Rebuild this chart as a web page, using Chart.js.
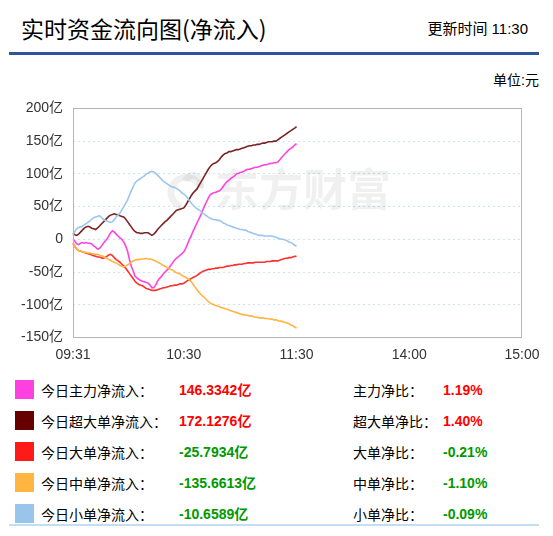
<!DOCTYPE html>
<html>
<head>
<meta charset="utf-8">
<script src="https://cdn.jsdelivr.net/npm/chart.js@4.4.1/dist/chart.umd.min.js"></script>
<style>
  html, body { margin: 0; padding: 0; background: #fff; }
  body { width: 553px; height: 536px; position: relative; overflow: hidden;
         font-family: "Liberation Sans", "Noto Sans CJK SC", sans-serif; color: #000; }
  .abs { position: absolute; white-space: nowrap; }
  #title { left: 21px; top: 12px; font-size: 23px; line-height: 32px; font-family: "Noto Sans CJK SC", sans-serif; }
  #updated { right: 25px; top: 19px; font-size: 15px; line-height: 20px; }
  #topline { left: 9px; top: 52px; width: 530px; height: 3px; background: #2f5597; }
  #unit { right: 14px; top: 70px; font-size: 14px; line-height: 20px; }
  #chart { position: absolute; left: 0; top: 90px; }
  .sq { position: absolute; left: 15px; width: 19px; height: 19px; }
  .lab { position: absolute; font-size: 14px; line-height: 20px; white-space: nowrap; font-family: "Noto Sans CJK SC", sans-serif; }
  .val { position: absolute; font-size: 14px; line-height: 20px; font-weight: bold; white-space: nowrap; }
  #botline { left: 9px; top: 524px; width: 530px; height: 2px; background: #c3ddf3; }
</style>
</head>
<body>
<div id="title" class="abs">实时资金流向图(净流入)</div>
<div id="updated" class="abs">更新时间 11:30</div>
<div id="topline" class="abs"></div>
<div id="unit" class="abs">单位:元</div>
<canvas id="chart" width="553" height="275"></canvas>
<div id="legend"></div>
<div id="botline" class="abs"></div>

<script>
// x categories: morning 09:31-11:30, afternoon 13:01-15:00
const times = [];
function addSession(h, m, count) {
    for (let i = 0; i < count; i++) {
        m++;
        if (m === 60) { m = 0; h++; }
        times.push(String(h).padStart(2, '0') + ':' + String(m).padStart(2, '0'));
    }
}
addSession(9, 30, 120);
addSession(13, 0, 120);

const shownTimes = ['09:31', '10:30', '11:30', '14:00', '15:00'];
const gridTimes = ['10:30', '11:30', '14:00'];

const yTicks = [200, 150, 100, 50, 0, -50, -100, -150];

// 亿元, one value per minute up to 11:30
const mainNet = [
    0, -3, -7, -8, -6, -5, -6, -5, -6, -6,
    -7, -10, -12, -15, -14, -11, -7, -3, 0, 5,
    10, 13, 11, 8, 5, 2, 0, -4, -10, -18,
    -30, -41, -48, -56, -59, -61, -63, -64, -65, -66,
    -67, -70, -74, -74, -70, -64, -60, -57, -53, -50,
    -47, -44, -40, -36, -32, -29, -27, -24, -22, -19,
    -14, -7, 0, 6, 13, 19, 25, 31, 37, 44,
    51, 57, 63, 68, 70, 71, 72, 73, 74, 77,
    81, 85, 88, 90, 93, 95, 97, 100, 101, 102,
    103, 104, 106, 107, 107, 108, 109, 110, 110, 111,
    112, 113, 114, 114, 115, 116, 116, 117, 117, 118,
    121, 125, 128, 131, 134, 137, 139, 141, 144, 146.33
];
const superNet = [
    10, 7, 6, 8, 11, 14, 17, 19, 20, 19,
    17, 16, 15, 17, 20, 23, 26, 29, 32, 35,
    37, 38, 39, 38, 37, 36, 35, 34, 31, 27,
    23, 19, 15, 12, 10, 10, 9, 9, 10, 10,
    10, 8, 6, 8, 11, 15, 18, 21, 24, 27,
    29, 32, 35, 38, 41, 44, 45, 46, 47, 48,
    52, 57, 62, 67, 71, 74, 77, 82, 87, 92,
    97, 102, 107, 111, 114, 116, 117, 119, 122, 126,
    129, 131, 132, 134, 134, 135, 136, 137, 137, 138,
    139, 140, 141, 142, 143, 143, 144, 144, 145, 145,
    146, 147, 147, 148, 149, 149, 149, 150, 150, 152,
    154, 156, 158, 160, 162, 164, 166, 168, 170, 172.13
];
const largeNet = [
    -6, -11, -15, -17, -18, -19, -20, -21, -22, -23,
    -24, -25, -26, -27, -27, -28, -29, -28, -26, -24,
    -23, -25, -28, -31, -33, -35, -38, -41, -44, -48,
    -52, -56, -60, -64, -67, -69, -70, -71, -73, -75,
    -76, -77, -78, -78, -78, -77, -76, -75, -74, -74,
    -73, -72, -71, -71, -70, -70, -69, -68, -68, -67,
    -65, -63, -61, -60, -58, -57, -55, -53, -51, -49,
    -48, -47, -46, -46, -45, -45, -44, -44, -43, -43,
    -43, -42, -41, -41, -40, -40, -39, -39, -38, -38,
    -38, -37, -37, -36, -36, -36, -36, -35, -35, -35,
    -35, -35, -35, -34, -34, -34, -33, -33, -33, -33,
    -32, -31, -30, -29, -29, -28, -28, -27, -26, -25.79
];
const mediumNet = [
    -6, -11, -15, -17, -18, -19, -20, -20, -21, -21,
    -22, -22, -23, -23, -24, -25, -26, -28, -29, -31,
    -32, -34, -35, -36, -38, -40, -41, -42, -41, -39,
    -37, -35, -33, -32, -31, -31, -30, -30, -30, -29,
    -30, -30, -31, -32, -33, -35, -36, -38, -40, -41,
    -43, -44, -46, -47, -49, -51, -52, -53, -55, -57,
    -58, -60, -62, -65, -69, -73, -77, -81, -84, -87,
    -89, -92, -95, -97, -99, -100, -101, -102, -103, -104,
    -105, -106, -107, -108, -109, -110, -111, -112, -113, -114,
    -115, -115, -116, -116, -117, -117, -118, -119, -119, -120,
    -120, -120, -121, -121, -121, -122, -122, -123, -123, -124,
    -125, -125, -126, -127, -128, -129, -131, -132, -134, -135.66
];
const smallNet = [
    6, 12, 16, 18, 19, 20, 22, 24, 26, 28,
    31, 33, 34, 35, 36, 34, 31, 29, 28, 27,
    26, 27, 30, 34, 37, 40, 45, 50, 55, 60,
    67, 74, 80, 86, 89, 91, 93, 95, 97, 100,
    101, 103, 104, 103, 101, 98, 95, 92, 89, 87,
    85, 83, 81, 80, 79, 78, 76, 74, 71, 69,
    67, 63, 59, 55, 52, 49, 47, 45, 43, 40,
    38, 36, 34, 32, 31, 30, 30, 29, 29, 27,
    25, 24, 22, 21, 20, 19, 18, 17, 16, 15,
    15, 14, 14, 12, 11, 10, 9, 8, 7, 6,
    6, 6, 5, 5, 5, 5, 5, 4, 3, 2,
    1, 0, 0, -1, -2, -4, -5, -7, -9, -10.66
];

const seriesNames = ['今日主力净流入', '今日超大单净流入', '今日大单净流入', '今日中单净流入', '今日小单净流入'];
const seriesColors = ['#ff40e0', '#660000', '#ff1a1a', '#ffb640', '#99c4ec'];
const lineColors = ['#ff44e0', '#7a2424', '#ff3030', '#ffb444', '#9cc6ee'];
const seriesTotals = ['146.3342亿', '172.1276亿', '-25.7934亿', '-135.6613亿', '-10.6589亿'];
const ratioNames = ['主力净比', '超大单净比', '大单净比', '中单净比', '小单净比'];
const ratioValues = ['1.19%', '1.40%', '-0.21%', '-1.10%', '-0.09%'];
const seriesData = [mainNet, superNet, largeNet, mediumNet, smallNet];

// legend table under the chart
const legend = document.getElementById('legend');
seriesNames.forEach((name, i) => {
    const cy = 389.5 + i * 31.1;
    const up = !seriesTotals[i].startsWith('-');
    const color = up ? '#ff0000' : '#009900';
    legend.insertAdjacentHTML('beforeend',
        `<div class="sq" style="top:${cy - 9.5}px;background:${seriesColors[i]}"></div>` +
        `<div class="lab" style="left:41px;top:${cy - 10}px">${name}：</div>` +
        `<div class="val" style="left:179px;top:${cy - 10}px;color:${color}">${seriesTotals[i]}</div>` +
        `<div class="lab" style="left:353px;top:${cy - 10}px">${ratioNames[i]}：</div>` +
        `<div class="val" style="left:443px;top:${cy - 10}px;color:${color}">${ratioValues[i]}</div>`);
});

const gridBlue = '#d3e2f1';

// box round the plot + faint watermark
const frameAndMark = {
    id: 'frameAndMark',
    beforeDatasetsDraw(chart) {
        const { ctx, chartArea: a } = chart;
        ctx.save();
        ctx.fillStyle = 'rgba(0,0,0,0.06)';
        ctx.strokeStyle = 'rgba(0,0,0,0.06)';
        ctx.font = 'bold 44px "Noto Sans CJK SC"';
        ctx.textBaseline = 'middle';
        ctx.fillText('东方财富', a.left + 142, a.top + 81);
        ctx.lineWidth = 7;
        ctx.beginPath();
        ctx.arc(a.left + 113, a.top + 84, 15, Math.PI * 0.6, Math.PI * 1.9);
        ctx.stroke();
        ctx.beginPath();
        ctx.arc(a.left + 120, a.top + 75, 8, Math.PI * 1.1, Math.PI * 2.2);
        ctx.stroke();
        ctx.restore();
    },
    afterDraw(chart) {
        const { ctx, chartArea: a } = chart;
        ctx.save();
        ctx.strokeStyle = '#b4b4b4';
        ctx.lineWidth = 1;
        ctx.strokeRect(Math.round(a.left) + 0.5, Math.round(a.top) + 0.5,
            Math.round(a.right - a.left) - 1, Math.round(a.bottom - a.top));
        ctx.restore();
    }
};

const tickFont = { family: '"Liberation Sans", "Noto Sans CJK SC", sans-serif', size: 14 };

new Chart(document.getElementById('chart'), {
    type: 'line',
    data: {
        labels: times,
        datasets: seriesData.map((d, i) => ({
            label: seriesNames[i],
            data: d,
            borderColor: lineColors[i],
            borderWidth: 1.6,
            pointRadius: 0,
            fill: false,
            tension: 0
        })).reverse()
    },
    options: {
        responsive: false,
        animation: false,
        devicePixelRatio: 1,
        layout: { padding: { top: 14.5, right: 31, left: 0, bottom: 0 } },
        plugins: { legend: { display: false }, tooltip: { enabled: false } },
        scales: {
            x: {
                type: 'category',
                offset: false,
                afterFit: s => { s.height = 27.5; },
                border: { display: false, dash: [2, 3] },
                grid: {
                    drawTicks: false,
                    color: c => gridTimes.includes(times[c.index]) ? gridBlue : 'transparent'
                },
                ticks: {
                    autoSkip: false,
                    maxRotation: 0,
                    minRotation: 0,
                    padding: 9,
                    color: '#333',
                    font: tickFont,
                    callback: (v, i) => shownTimes.includes(times[i]) ? times[i] : null
                }
            },
            y: {
                min: yTicks[yTicks.length - 1],
                max: yTicks[0],
                afterFit: s => { s.width = 73; },
                afterBuildTicks: s => { s.ticks = yTicks.map(v => ({ value: v })); },
                border: { display: false, dash: [2, 3] },
                grid: {
                    drawTicks: false,
                    color: c => (c.tick && (c.tick.value === yTicks[0] || c.tick.value === yTicks[yTicks.length - 1])) ? 'transparent' : gridBlue
                },
                ticks: {
                    padding: 10,
                    color: '#333',
                    font: tickFont,
                    callback: v => v === 0 ? '0' : v + '亿'
                }
            }
        }
    },
    plugins: [frameAndMark]
});
</script>
</body>
</html>
